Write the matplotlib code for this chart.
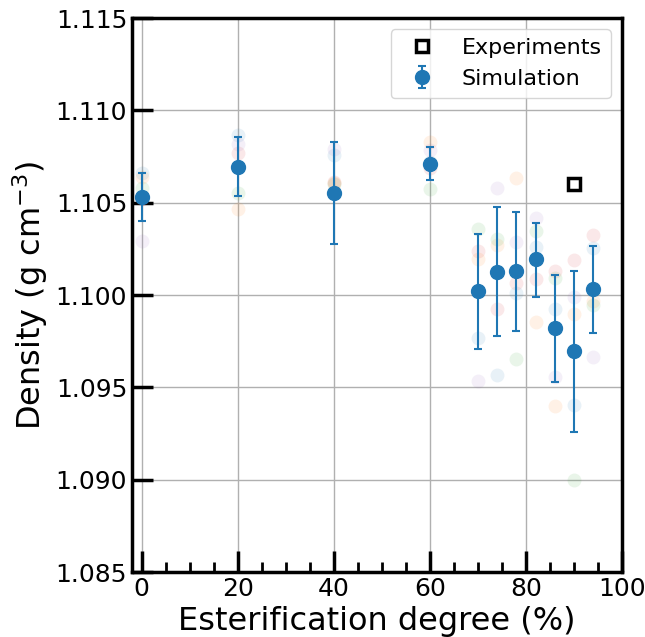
import matplotlib
matplotlib.use("Agg")
from matplotlib import pyplot as plt
from matplotlib.ticker import MultipleLocator

# esterification degree (%)
degree = [0, 20, 40, 60, 70, 74, 78, 82, 86, 90, 94]

# individual runs (faint points), one list per replica
run_blue = [1.1066, 1.10867, 1.10758, 1.1072, 1.09769, 1.09567, 1.10009, 1.10262, 1.09922, 1.09404, 1.10253]
run_orange = [1.1064, 1.10464, 1.10605, 1.10826, 1.10195, 1.10271, 1.10632, 1.09856, 1.09401, 1.09895, 1.09967]
run_green = [1.1058, 1.10554, 1.1060, 1.10572, 1.10357, 1.10301, 1.09653, 1.10347, 1.10094, 1.08998, 1.09946]
run_red = [1.1052, 1.10767, 1.1061, 1.10686, 1.10238, 1.09924, 1.10067, 1.10087, 1.10132, 1.10190, 1.10325]
run_purple = [1.1029, 1.10817, 1.10789, 1.10785, 1.09536, 1.10578, 1.10289, 1.10419, 1.09554, 1.09991, 1.09666]

# simulation mean and error
sim_mean = [1.10533, 1.10693, 1.10553, 1.10711, 1.10020, 1.10126, 1.10130, 1.10193, 1.09820, 1.09697, 1.10032]
sim_err_low = [0.00133, 0.00159, 0.00275, 0.00088, 0.00314, 0.00348, 0.00323, 0.00204, 0.00293, 0.00437, 0.00238]
sim_err_high = [0.00127, 0.00161, 0.00273, 0.00088, 0.00310, 0.00349, 0.00321, 0.00199, 0.00290, 0.00433, 0.00235]

# experiment
exp_degree = [90]
exp_density = [1.10601]

fig = plt.figure(figsize=(6.45, 6.37), dpi=100)
ax = fig.add_axes([0.2047, 0.102, 0.7596, 0.8697])

runs = [run_blue, run_orange, run_green, run_red, run_purple]
colors = ["tab:blue", "tab:orange", "tab:green", "tab:red", "tab:purple"]
for run, c in zip(runs, colors):
    ax.plot(degree, run, "o", color=c, alpha=0.1, markersize=10, markeredgewidth=0)

ax.plot(exp_degree, exp_density, "s", markerfacecolor="white", markeredgecolor="black",
        markeredgewidth=2.5, markersize=9, linestyle="none", label="Experiments", zorder=4)
ax.errorbar(degree, sim_mean, yerr=[sim_err_low, sim_err_high], fmt="o", color="tab:blue",
            markersize=10, capsize=3, elinewidth=1.5, capthick=1.5, label="Simulation", zorder=5)

ax.set_xlim(-2, 100)
ax.set_ylim(1.085, 1.115)
ax.set_xticks([0, 20, 40, 60, 80, 100])
ax.set_yticks([1.085, 1.090, 1.095, 1.100, 1.105, 1.110, 1.115])
ax.xaxis.set_minor_locator(MultipleLocator(5))
ax.grid(True, color="#b0b0b0", linewidth=1)
ax.set_axisbelow(True)

ax.tick_params(axis="both", which="major", direction="in", length=15, width=2.5, labelsize=18,
               top=False, right=False)
ax.tick_params(axis="x", which="minor", direction="in", length=7, width=2, top=False)
for s in ax.spines.values():
    s.set_linewidth(2.5)

ax.set_xlabel("Esterification degree (%)", fontsize=23)
ax.set_ylabel("Density (g cm$^{-3}$)", fontsize=23)
ax.legend(loc="upper right", fontsize=16)

fig.savefig("out.png", dpi=100)
